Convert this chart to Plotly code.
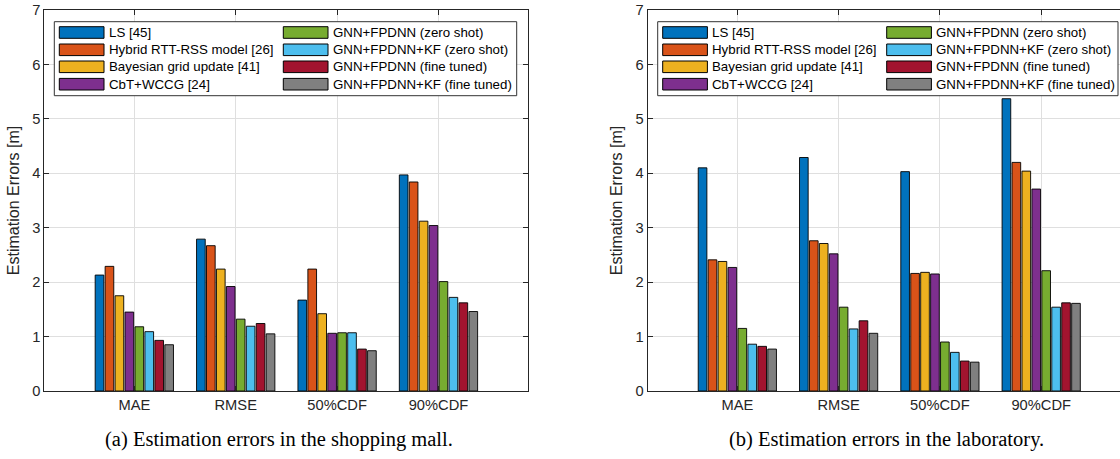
import plotly.graph_objects as go
from plotly.subplots import make_subplots

categories = ["MAE", "RMSE", "50%CDF", "90%CDF"]
methods = [
    "LS [45]",
    "Hybrid RTT-RSS model [26]",
    "Bayesian grid update [41]",
    "CbT+WCCG [24]",
    "GNN+FPDNN (zero shot)",
    "GNN+FPDNN+KF (zero shot)",
    "GNN+FPDNN (fine tuned)",
    "GNN+FPDNN+KF (fine tuned)",
]
colors = ["#0072BD", "#D95319", "#EDB120", "#7E2F8E",
          "#77AC30", "#4DBEEE", "#A2142F", "#808080"]

# (a) shopping mall
mall_ls = [2.13, 2.79, 1.67, 3.97]
mall_hybrid = [2.29, 2.67, 2.24, 3.84]
mall_bayes = [1.75, 2.24, 1.42, 3.12]
mall_cbt = [1.45, 1.92, 1.06, 3.04]
mall_gnn_zero = [1.18, 1.32, 1.07, 2.01]
mall_gnnkf_zero = [1.09, 1.19, 1.07, 1.72]
mall_gnn_ft = [0.93, 1.24, 0.77, 1.62]
mall_gnnkf_ft = [0.85, 1.05, 0.74, 1.46]

# (b) laboratory
lab_ls = [4.10, 4.29, 4.03, 5.37]
lab_hybrid = [2.41, 2.76, 2.16, 4.20]
lab_bayes = [2.38, 2.71, 2.18, 4.04]
lab_cbt = [2.27, 2.52, 2.15, 3.71]
lab_gnn_zero = [1.15, 1.54, 0.90, 2.21]
lab_gnnkf_zero = [0.86, 1.14, 0.71, 1.54]
lab_gnn_ft = [0.82, 1.29, 0.55, 1.62]
lab_gnnkf_ft = [0.77, 1.06, 0.53, 1.61]

mall = [mall_ls, mall_hybrid, mall_bayes, mall_cbt,
        mall_gnn_zero, mall_gnnkf_zero, mall_gnn_ft, mall_gnnkf_ft]
lab = [lab_ls, lab_hybrid, lab_bayes, lab_cbt,
       lab_gnn_zero, lab_gnnkf_zero, lab_gnn_ft, lab_gnnkf_ft]

captions = ["(a) Estimation errors in the shopping mall.",
            "(b) Estimation errors in the laboratory."]
y_title = "Estimation Errors [m]"

W, H = 1120, 459
PT, PB = 10, 391  # plot area top / bottom in pixels
FONT = "Liberation Sans, Arial, Helvetica, sans-serif"
AX = "#262626"

fig = make_subplots(rows=1, cols=2)
for col, data in ((1, mall), (2, lab)):
    for name, vals, c in zip(methods, data, colors):
        fig.add_trace(go.Bar(x=categories, y=vals, name=name,
                             marker=dict(color=c, line=dict(color="#000000", width=0.9)),
                             showlegend=False), row=1, col=col)

fig.update_layout(
    width=W, height=H,
    margin=dict(l=0, r=0, t=PT, b=H - PB, autoexpand=False),
    barmode="group", bargap=0.215, bargroupgap=0.13,
    plot_bgcolor="white", paper_bgcolor="white",
    hovermode=False,
    font=dict(family=FONT, size=15, color=AX),
)

axcommon = dict(showline=True, linecolor=AX, linewidth=1, ticks="inside", ticklen=5,
                tickcolor=AX, showgrid=True, gridcolor="#dfdfdf", gridwidth=1,
                zeroline=False, automargin=False,
                tickfont=dict(family=FONT, size=14.7, color=AX))

fig.update_xaxes(**axcommon)
fig.update_yaxes(**axcommon)
fig.update_xaxes(domain=[44.3 / W, 528.3 / W], range=[-0.888, 3.886], mirror="ticks", row=1, col=1)
fig.update_xaxes(domain=[647.7 / W, 1.0], range=[-0.885, 3.778], mirror="ticks", row=1, col=2)
fig.update_yaxes(range=[0, 7], dtick=1, mirror="ticks", row=1, col=1,
                 title=dict(text=y_title, font=dict(family=FONT, size=16, color=AX), standoff=8))
fig.update_yaxes(range=[0, 7], dtick=1, mirror=False, row=1, col=2,
                 title=dict(text=y_title, font=dict(family=FONT, size=16, color=AX), standoff=8))


def px(x):
    return x / W


def py(y):
    return (PB - y) / (PB - PT)


shapes = []
annotations = []
for box_left, box_right in ((54.3, 516.7), (657.7, 1118.0)):
    shapes.append(dict(type="rect", xref="paper", yref="paper",
                       x0=px(box_left), x1=px(box_right), y0=py(95.7), y1=py(21.7),
                       fillcolor="white", line=dict(color="#333333", width=1), layer="above"))
    row_centers = [32.5, 49.8, 66.8, 84.2]
    for i, (name, c) in enumerate(zip(methods, colors)):
        colx = box_left + (5.0 if i < 4 else 229.0)
        yc = row_centers[i % 4]
        shapes.append(dict(type="rect", xref="paper", yref="paper",
                           x0=px(colx), x1=px(colx + 44.7), y0=py(yc + 5.8), y1=py(yc - 5.8),
                           fillcolor=c, line=dict(color="#000000", width=1), layer="above"))
        annotations.append(dict(text=name, xref="paper", yref="paper", x=px(colx + 47.5), y=py(yc),
                                xanchor="left", yanchor="middle", showarrow=False,
                                font=dict(family=FONT, size=13.3, color="#000000")))

for cap, cx in zip(captions, (279.0, 886.0)):
    annotations.append(dict(text=cap, xref="paper", yref="paper", x=px(cx), y=py(439),
                            xanchor="center", yanchor="middle", showarrow=False,
                            font=dict(family="Liberation Serif, Times New Roman, serif",
                                      size=20.5, color="#000000")))

fig.update_layout(shapes=shapes, annotations=annotations)
fig.write_html("out.html",
               config={"displayModeBar": False, "staticPlot": True},
               post_script="document.body.style.margin='0px';document.body.style.overflow='hidden';")
